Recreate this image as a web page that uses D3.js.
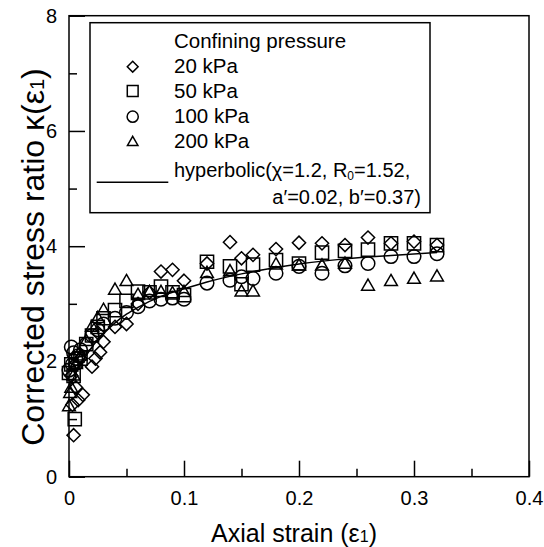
<!DOCTYPE html>
<html>
<head>
<meta charset="utf-8">
<script src="https://cdn.jsdelivr.net/npm/d3@7"></script>
<style>
  body { margin: 0; background: #fff; }
  svg text { font-family: "Liberation Sans", Arial, sans-serif; fill: #000; }
</style>
</head>
<body>
<svg id="chart" width="544" height="547"></svg>
<script>
// data
var strain20  = [0.004,0.008,0.012,0.003,0.006,0.002,0.005,0.010,0.020,0.023,0.027,0.030,0.025,0.040,0.050,0.060,0.070,0.080,0.090,0.100,0.120,0.140,0.150,0.160,0.180,0.200,0.220,0.240,0.260,0.280,0.300,0.320];
var kappa20   = [0.72, 1.33, 1.42, 1.25, 1.55, 1.75, 1.95, 2.05, 1.91, 2.05, 2.16, 2.34, 2.50, 2.60, 2.65, 3.00, 3.20, 3.56, 3.59, 3.40, 3.70, 4.07, 3.79, 3.85, 3.95, 4.06, 4.05, 4.02, 4.15, 4.05, 4.08, 4.02];
var strain50  = [0.005,0.000,0.002,0.004,0.006,0.010,0.015,0.020,0.025,0.030,0.040,0.050,0.060,0.070,0.080,0.090,0.100,0.120,0.140,0.150,0.160,0.180,0.200,0.220,0.240,0.260,0.280,0.300,0.320];
var kappa50   = [1.00, 1.80, 1.95, 1.75, 2.00, 2.05, 2.30, 2.45, 2.60, 2.75, 2.89, 3.05, 3.21, 3.20, 3.30, 3.20, 3.15, 3.73, 3.65, 3.34, 3.68, 3.76, 3.70, 3.89, 3.92, 3.94, 4.05, 4.05, 4.02];
var strain100 = [0.000,0.002,0.004,0.006,0.008,0.003,0.010,0.015,0.020,0.025,0.030,0.040,0.050,0.060,0.070,0.080,0.090,0.100,0.120,0.140,0.150,0.160,0.180,0.200,0.220,0.240,0.260,0.280,0.300,0.320];
var kappa100  = [1.85, 2.25, 2.15, 2.05, 2.10, 1.95, 2.20, 2.30, 2.45, 2.55, 2.65, 2.75, 2.85, 2.95, 3.05, 3.08, 3.10, 3.08, 3.36, 3.41, 3.47, 3.44, 3.53, 3.65, 3.53, 3.66, 3.70, 3.82, 3.82, 3.87];
var strain200 = [0.000,0.001,0.002,0.004,0.006,0.010,0.015,0.020,0.025,0.030,0.040,0.050,0.060,0.070,0.080,0.090,0.100,0.120,0.140,0.150,0.160,0.180,0.200,0.220,0.240,0.260,0.280,0.300,0.320];
var kappa200  = [1.22, 1.45, 1.54, 1.75, 1.95, 2.10, 2.35, 2.60, 2.75, 2.89, 3.24, 3.39, 3.15, 3.20, 3.20, 3.18, 3.20, 3.53, 3.56, 3.21, 3.21, 3.68, 3.66, 3.66, 3.69, 3.31, 3.39, 3.43, 3.47];

// fitted hyperbolic line
var fitStrain = [0, 0.005, 0.01, 0.02, 0.03, 0.04, 0.05, 0.06, 0.08, 0.1, 0.12, 0.15, 0.18, 0.2, 0.24, 0.28, 0.32];
var fitKappa  = [1.52, 1.76, 1.94, 2.25, 2.48, 2.67, 2.82, 2.94, 3.13, 3.26, 3.38, 3.52, 3.63, 3.69, 3.78, 3.84, 3.89];

var xMajor = [0, 0.1, 0.2, 0.3, 0.4];
var xMinor = [0.05, 0.15, 0.25, 0.35];
var yMajor = [0, 2, 4, 6, 8];
var yMinor = [1, 3, 5, 7];

var legendLabels = ["20 kPa", "50 kPa", "100 kPa", "200 kPa"];

var svg = d3.select("#chart"),
    pLeft = 69, pRight = 529, pTop = 15.7, pBottom = 476.7;

var x = d3.scaleLinear().domain([0, 0.4]).range([pLeft, pRight]);
var y = d3.scaleLinear().domain([0, 8]).range([pBottom, pTop]);

// marker shapes
function shapePath(kind, s) {
    if (kind == "diamond") return "M0," + (-s) + "L" + s + ",0L0," + s + "L" + (-s) + ",0Z";
    if (kind == "square") return "M" + (-s) + "," + (-s) + "h" + (2*s) + "v" + (2*s) + "h" + (-2*s) + "Z";
    if (kind == "circle") return d3.symbol(d3.symbolCircle, Math.PI * s * s)();
    // triangle
    var h = s * 1.75;
    return "M0," + (-h*0.62) + "L" + s + "," + (h*0.38) + "L" + (-s) + "," + (h*0.38) + "Z";
}

var series = [
    {kind: "diamond", size: 6.6, xs: strain20,  ys: kappa20},
    {kind: "square",  size: 6.6, xs: strain50,  ys: kappa50},
    {kind: "circle",  size: 6.8, xs: strain100, ys: kappa100},
    {kind: "triangle",size: 6.4, xs: strain200, ys: kappa200}
];

var plot = svg.append("g");

series.forEach(function (s) {
    plot.append("g").selectAll("path")
        .data(s.xs.map(function (v, i) { return [v, s.ys[i]]; }))
        .join("path")
        .attr("transform", function (d) { return "translate(" + x(d[0]) + "," + y(d[1]) + ")"; })
        .attr("d", shapePath(s.kind, s.size))
        .attr("fill", "none")
        .attr("stroke", "#000")
        .attr("stroke-width", 1.5);
});

var line = d3.line()
    .x(function (d) { return x(d[0]); })
    .y(function (d) { return y(d[1]); })
    .curve(d3.curveMonotoneX);

plot.append("path")
    .datum(fitStrain.map(function (v, i) { return [v, fitKappa[i]]; }))
    .attr("d", line)
    .attr("fill", "none")
    .attr("stroke", "#000")
    .attr("stroke-width", 1.5);

// frame
svg.append("rect")
    .attr("x", pLeft).attr("y", pTop)
    .attr("width", pRight - pLeft).attr("height", pBottom - pTop)
    .attr("fill", "none").attr("stroke", "#000").attr("stroke-width", 1.5);

// axes, ticks pointing inward
function styleAxis(g) {
    g.select(".domain").remove();
    g.selectAll("line").attr("stroke", "#000").attr("stroke-width", 1.5);
    g.selectAll("text").style("font-size", "20px");
}

svg.append("g").attr("transform", "translate(0," + pBottom + ")")
    .call(d3.axisBottom(x).tickValues(xMajor).tickSize(-16).tickPadding(14).tickFormat(d3.format("~g")))
    .call(styleAxis);
svg.append("g").attr("transform", "translate(0," + pBottom + ")")
    .call(d3.axisBottom(x).tickValues(xMinor).tickSize(-8).tickFormat(""))
    .call(styleAxis);
svg.append("g").attr("transform", "translate(" + pLeft + ",0)")
    .call(d3.axisLeft(y).tickValues(yMajor).tickSize(-16).tickPadding(12).tickFormat(d3.format("d")))
    .call(styleAxis);
svg.append("g").attr("transform", "translate(" + pLeft + ",0)")
    .call(d3.axisLeft(y).tickValues(yMinor).tickSize(-8).tickFormat(""))
    .call(styleAxis);

// axis titles
var xt = svg.append("text")
    .attr("x", 294).attr("y", 542)
    .attr("text-anchor", "middle")
    .style("font-size", "25px")
    .text("Axial strain (\u03b5");
xt.append("tspan").style("font-size", "16px").text("1");
xt.append("tspan").text(")");

var yt = svg.append("text")
    .attr("transform", "translate(44,257) rotate(-90)")
    .attr("text-anchor", "middle")
    .style("font-size", "32px")
    .text("Corrected stress ratio \u03ba(\u03b5");
yt.append("tspan").style("font-size", "20px").text("1");
yt.append("tspan").text(")");

// legend
var lg = svg.append("g");
lg.append("rect")
    .attr("x", 90).attr("y", 22.7).attr("width", 340).attr("height", 190)
    .attr("fill", "#fff").attr("stroke", "#000").attr("stroke-width", 1.5);

lg.append("text").attr("x", 174).attr("y", 48).style("font-size", "20.5px").text("Confining pressure");

var rowY = [66.7, 91, 116.7, 142];
var baseY = [72.7, 97.7, 123, 148];
series.forEach(function (s, i) {
    lg.append("path")
        .attr("transform", "translate(132.7," + rowY[i] + ")")
        .attr("d", shapePath(s.kind, s.size * 0.82))
        .attr("fill", "none").attr("stroke", "#000").attr("stroke-width", 1.5);
    lg.append("text").attr("x", 174).attr("y", baseY[i]).style("font-size", "20.5px").text(legendLabels[i]);
});

lg.append("line")
    .attr("x1", 96.7).attr("x2", 168.3).attr("y1", 182.3).attr("y2", 182.3)
    .attr("stroke", "#000").attr("stroke-width", 1.5);

var h1 = lg.append("text").attr("x", 174).attr("y", 177).style("font-size", "20px")
    .text("hyperbolic(\u03c7=1.2, R");
h1.append("tspan").style("font-size", "12px").attr("dy", 3).text("0");
h1.append("tspan").attr("dy", -3).text("=1.52,");

lg.append("text").attr("x", 421).attr("y", 204).attr("text-anchor", "end").style("font-size", "20px")
    .text("a\u2032=0.02, b\u2032=0.37)");
</script>
</body>
</html>
